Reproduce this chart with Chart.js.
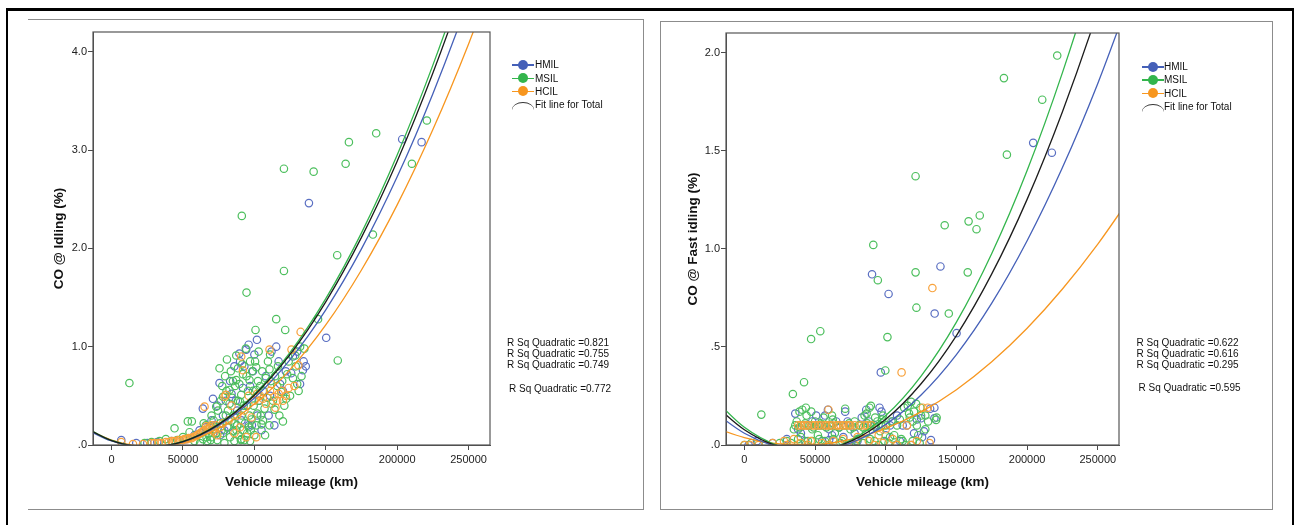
<!DOCTYPE html>
<html>
<head>
<meta charset="utf-8">
<title>CO emission vs vehicle mileage</title>
<script src="https://cdn.jsdelivr.net/npm/chart.js@4.4.1/dist/chart.umd.min.js"></script>
<style>
  body { margin: 0; background: #fff; font-family: Arial, "Liberation Sans", sans-serif; }
  #page { position: relative; width: 1301px; height: 525px; overflow: hidden; background: #fff; }
  .frame { position: absolute; box-sizing: border-box; left: 6px; top: 8px; width: 1288px; height: 560px;
           border: 2px solid #000; border-top-width: 3px; }
  .panel { position: absolute; box-sizing: border-box; border: 1px solid #8c8c8c; }
  #panelL { left: 28px; top: 19px; width: 616px; height: 491px; border-left: none; }
  #panelR { left: 660px; top: 21px; width: 613px; height: 489px; }
  .wrap { position: absolute; }
  #wrapL { left: 28px; top: 20px; width: 615px; height: 489px; }
  #wrapR { left: 661px; top: 22px; width: 611px; height: 487px; }
  .txt { position: absolute; font-size: 10px; line-height: 13px; color: #111; white-space: nowrap; }
  .ico { position: absolute; width: 22px; height: 13px; }
  .ico .ln { position: absolute; left: 0; top: 6px; width: 22px; height: 1.5px; }
  .ico .dot { position: absolute; left: 6px; top: 1.5px; width: 10px; height: 10px; border-radius: 50%; }
  .arc { position: absolute; width: 22px; height: 8px; box-sizing: border-box;
         border-top: 1.6px solid #333; border-radius: 50% 50% 0 0 / 100% 100% 0 0; }
</style>
</head>
<body>
<div id="page">
  <div class="frame"></div>
  <div class="panel" id="panelL"></div>
  <div class="panel" id="panelR"></div>
  <div class="wrap" id="wrapL"><canvas id="idleChart"></canvas></div>
  <div class="wrap" id="wrapR"><canvas id="fastChart"></canvas></div>
</div>
<script>
// axis ticks
const mileageTicks = [0, 50000, 100000, 150000, 200000, 250000];
const idleTicks = [0, 1, 2, 3, 4];
const fastTicks = [0, 0.5, 1, 1.5, 2];

const groups = ['HMIL', 'MSIL', 'HCIL'];
const groupColors = ['#4560b8', '#33b54c', '#f7961f'];
const markColors = ['#5a6fc2', '#4cbf5d', '#f8a23c'];

// quadratic fit lines, sampled every 25000 km
const fitKm = [-25000, 0, 25000, 50000, 75000, 100000, 125000, 150000, 175000, 200000, 225000, 250000, 275000];
const idleFitTotal = [0.230, 0.045, -0.020, 0.035, 0.210, 0.506, 0.921, 1.456, 2.111, 2.886, 3.782, 4.797, 5.932];
const idleFitHmil  = [0.216, 0.041, -0.020, 0.032, 0.198, 0.477, 0.869, 1.375, 1.994, 2.727, 3.573, 4.533, 5.606];
const idleFitMsil  = [0.235, 0.046, -0.020, 0.036, 0.215, 0.517, 0.941, 1.488, 2.157, 2.949, 3.863, 4.900, 6.060];
const idleFitHcil  = [0.218, 0.050, -0.014, 0.025, 0.168, 0.416, 0.767, 1.221, 1.780, 2.442, 3.208, 4.079, 5.052];
const fastFitTotal = [0.231, 0.078, -0.009, -0.029, 0.018, 0.131, 0.312, 0.558, 0.872, 1.252, 1.699, 2.212, 2.793];
const fastFitHmil  = [0.188, 0.060, -0.012, -0.029, 0.010, 0.105, 0.255, 0.461, 0.723, 1.041, 1.414, 1.843, 2.328];
const fastFitMsil  = [0.262, 0.090, -0.006, -0.029, 0.024, 0.150, 0.351, 0.626, 0.976, 1.399, 1.898, 2.470, 3.118];
const fastFitHcil  = [0.099, 0.038, 0.006, 0.003, 0.029, 0.085, 0.169, 0.282, 0.424, 0.595, 0.795, 1.024, 1.282];

// measurements: [mileage km, CO %]
const hmilIdle = [
  [6800,0.05],[17300,0.02],[25000,0.02],[32000,0.03],[42000,0.04],[52000,0.06],[58000,0.1],[61600,0.15],
  [63900,0.37],[66000,0.18],[68000,0.12],[70000,0.25],[71000,0.47],[72000,0.2],[74000,0.4],[75600,0.63],
  [76000,0.1],[78000,0.3],[79000,0.15],[80000,0.45],[82000,0.18],[83000,0.65],[84000,0.52],[86000,0.8],
  [87000,0.45],[88000,0.35],[89500,0.93],[90000,0.85],[91000,0.25],[92000,0.58],[93000,0.8],[94300,0.97],
  [95000,0.4],[96000,1.02],[96000,0.2],[97000,0.6],[98300,0.2],[99000,0.75],[100000,0.92],[101800,1.07],
  [102000,0.3],[103000,0.45],[105000,0.15],[106000,0.55],[108000,0.7],[110000,0.3],[111000,0.5],
  [112000,0.95],[114000,0.2],[115300,1.0],[117000,0.85],[118000,0.62],[120000,0.55],[122000,0.75],
  [125800,0.73],[127000,0.9],[130000,0.95],[132000,0.62],[134000,0.76],[134500,0.85],[136000,0.8],
  [138200,2.46],[150300,1.09],[203500,3.11],[217100,3.08]
];
const msilIdle = [
  [12500,0.63],[23100,0.02],[28000,0.03],[33600,0.04],[38000,0.06],[44100,0.17],[46000,0.05],[50000,0.08],
  [53400,0.24],[54600,0.13],[56200,0.24],[58000,0.04],[60000,0.1],[62000,0.02],[62000,0.12],[64000,0.06],
  [64500,0.22],[66000,0.2],[66500,0.08],[67000,0.04],[68000,0.12],[69000,0.18],[69500,0.05],[70000,0.3],
  [70000,0.08],[71500,0.25],[72000,0.16],[73000,0.12],[73300,0.39],[74000,0.05],[74500,0.35],[75600,0.78],
  [76000,0.22],[76500,0.45],[77000,0.15],[77500,0.6],[78000,0.49],[78000,0.12],[79000,0.02],[79500,0.7],
  [80000,0.3],[80500,0.55],[80800,0.87],[81000,0.18],[81500,0.35],[82600,0.56],[82600,0.42],[83000,0.08],
  [83500,0.75],[84000,0.25],[84500,0.48],[85000,0.65],[85000,0.14],[85500,0.3],[86000,0.04],[86000,0.22],
  [86500,0.6],[87300,0.91],[87300,0.66],[87500,0.15],[88000,0.2],[88500,0.78],[88500,0.45],[89000,0.1],
  [89500,0.62],[90000,0.44],[90500,0.05],[90800,0.51],[91000,0.3],[91000,0.06],[91200,2.33],[91500,0.82],
  [92000,0.72],[92000,0.15],[92500,0.4],[93000,0.05],[93500,0.22],[94000,0.98],[94500,1.55],[94500,0.7],
  [95000,0.4],[95000,0.12],[95500,0.55],[96000,0.18],[96500,0.3],[96600,0.66],[97000,0.85],[97000,0.04],
  [97500,0.15],[98000,0.26],[98500,0.75],[99000,0.55],[99500,0.4],[100000,0.1],[100500,0.85],[100800,1.17],
  [101300,0.79],[101300,0.56],[101500,0.2],[102000,0.32],[102500,0.65],[103000,0.95],[103500,0.45],
  [104000,0.6],[104500,0.3],[105000,0.21],[105500,0.75],[106000,0.25],[106500,0.55],[107100,0.37],
  [107500,0.1],[108000,0.68],[109000,0.48],[109500,0.85],[110500,0.2],[110600,0.77],[111000,0.92],
  [111500,0.65],[112000,0.42],[113000,0.45],[114100,0.36],[114500,0.7],[115300,1.28],[116000,0.6],
  [116500,0.8],[117500,0.3],[118800,0.54],[119500,0.65],[120000,0.24],[120700,2.81],[120700,1.77],
  [121000,0.4],[121600,1.17],[122300,0.47],[123000,0.72],[124000,0.85],[125000,0.5],[127000,0.68],
  [128600,0.91],[129000,0.8],[130000,0.62],[131000,0.55],[132000,1.0],[133000,0.7],[135000,0.98],
  [141500,2.78],[144600,1.28],[158000,1.93],[158400,0.86],[163900,2.86],[166200,3.08],[183000,2.14],
  [185300,3.17],[210300,2.86],[220800,3.30]
];
const hcilIdle = [
  [6800,0.03],[15000,0.01],[22000,0.01],[28000,0.02],[30000,0.02],[33000,0.02],[35000,0.02],[38000,0.03],
  [40000,0.03],[42000,0.04],[44000,0.04],[45000,0.04],[47000,0.05],[48000,0.05],[50000,0.05],[51000,0.06],
  [53000,0.06],[54000,0.07],[56000,0.07],[57000,0.08],[59000,0.09],[60000,0.1],[61000,0.11],[62000,0.12],
  [63000,0.13],[64000,0.14],[65000,0.15],[65100,0.39],[66300,0.19],[67000,0.17],[68000,0.16],[69000,0.18],
  [70000,0.2],[71000,0.15],[72000,0.13],[73000,0.2],[74000,0.1],[76000,0.18],[78000,0.22],[79100,0.49],
  [80000,0.51],[82000,0.25],[84000,0.4],[86000,0.12],[88000,0.3],[90000,0.18],[90800,0.9],[92000,0.76],
  [93000,0.35],[94300,0.08],[96000,0.5],[98000,0.28],[100000,0.45],[101300,0.08],[102000,0.52],
  [104000,0.5],[106000,0.47],[108000,0.42],[110600,0.97],[111000,0.55],[112000,0.62],[114100,0.49],
  [114800,0.38],[116000,0.45],[117000,0.52],[119000,0.55],[120000,0.45],[122000,0.5],[124000,0.58],
  [126000,0.97],[128000,0.6],[130800,0.81],[132400,1.15]
];

const hmilFast = [
  [3000,0.0],[9000,0.02],[20000,0.01],[30000,0.03],[36000,0.16],[38000,0.08],[40000,0.06],[43000,0.02],
  [45000,0.1],[48000,0.12],[50800,0.15],[53000,0.1],[55000,0.02],[57000,0.15],[59100,0.18],[60000,0.025],
  [60000,0.08],[62000,0.05],[65000,0.12],[67000,0.09],[70000,0.04],[71300,0.17],[73000,0.12],[75000,0.1],
  [78000,0.06],[80000,0.02],[83000,0.14],[86200,0.18],[88000,0.12],[90300,0.87],[92000,0.1],[95600,0.19],
  [96500,0.37],[97000,0.17],[100000,0.05],[102000,0.77],[103000,0.1],[105000,0.12],[108000,0.15],
  [110000,0.02],[112000,0.1],[115000,0.1],[118000,0.0],[120000,0.06],[122000,0.13],[125000,0.136],
  [125700,0.04],[127000,0.07],[131400,0.185],[132000,0.025],[134400,0.136],[134400,0.19],[134600,0.67],
  [138700,0.91],[150100,0.57],[204300,1.54],[217500,1.49]
];
const msilFast = [
  [0,0.0],[5000,0.01],[12000,0.155],[15000,0.0],[25000,0.01],[30000,0.02],[33000,0.01],[34300,0.26],
  [35000,0.08],[36000,0.1],[37000,0.12],[38000,0.03],[39000,0.17],[39000,0.09],[40000,0.04],[41000,0.18],
  [42000,0.1],[42200,0.32],[43000,0.0],[43000,0.11],[43500,0.19],[44000,0.15],[45000,0.02],[46000,0.1],
  [47200,0.54],[47300,0.17],[48000,0.08],[48000,0.02],[49000,0.09],[50000,0.12],[51000,0.1],[52000,0.05],
  [53000,0.03],[53700,0.58],[54000,0.11],[55000,0.1],[56000,0.14],[57000,0.02],[58000,0.09],[58000,0.0],
  [60000,0.1],[61000,0.1],[62000,0.15],[62500,0.13],[63000,0.11],[63000,0.03],[64000,0.06],[66000,0.1],
  [67000,0.09],[68000,0.01],[69000,0.02],[70000,0.1],[71300,0.185],[72000,0.1],[74000,0.11],[74000,0.0],
  [75000,0.08],[77000,0.09],[78000,0.12],[79000,0.02],[80000,0.03],[81000,0.1],[82000,0.1],[84000,0.09],
  [84000,0.01],[85000,0.15],[86000,0.06],[86500,0.16],[87000,0.11],[88500,0.19],[89000,0.1],[89000,0.03],
  [89500,0.2],[90000,0.1],[91200,1.02],[92000,0.02],[92500,0.14],[93000,0.09],[94000,0.12],[94400,0.84],
  [95000,0.0],[96000,0.07],[97000,0.1],[97500,0.13],[98000,0.15],[99000,0.02],[99700,0.38],[100000,0.1],
  [101200,0.55],[102000,0.01],[103000,0.04],[104000,0.12],[106000,0.05],[107000,0.0],[108000,0.1],
  [110000,0.13],[111000,0.03],[112000,0.02],[113000,0.19],[114000,0.0],[115600,0.2],[116500,0.16],
  [117000,0.14],[118000,0.22],[119000,0.12],[119000,0.02],[120000,0.17],[121100,1.37],[121100,0.88],
  [121500,0.21],[121700,0.70],[122000,0.1],[123000,0.05],[124000,0.01],[124500,0.19],[125000,0.15],
  [128000,0.08],[128000,0.15],[130000,0.12],[135600,0.128],[136000,0.14],[141700,1.12],[144600,0.67],
  [158000,0.88],[158600,1.14],[164200,1.10],[166500,1.17],[183600,1.87],[185700,1.48],[210700,1.76],
  [221300,1.985]
];
const hcilFast = [
  [0,0.0],[4000,0.0],[10000,0.0],[20000,0.01],[28000,0.02],[30000,0.0],[35000,0.03],[38000,0.1],
  [40000,0.01],[40000,0.1],[42000,0.1],[44000,0.1],[45000,0.1],[45000,0.0],[47000,0.02],[48000,0.1],
  [50000,0.1],[52000,0.1],[54000,0.1],[55000,0.01],[57000,0.1],[58000,0.1],[59500,0.18],[60000,0.1],
  [60000,0.0],[62000,0.1],[63000,0.02],[65000,0.1],[66000,0.1],[68000,0.1],[70000,0.03],[70000,0.1],
  [72000,0.1],[74000,0.1],[75000,0.1],[78000,0.1],[78000,0.0],[80000,0.04],[82000,0.1],[85000,0.1],
  [87000,0.1],[88000,0.02],[90000,0.1],[92000,0.0],[95000,0.05],[98000,0.01],[100000,0.08],[105000,0.03],
  [108000,0.0],[111200,0.37],[115000,0.1],[118000,0.0],[122000,0.02],[126200,0.19],[129700,0.19],
  [131000,0.01],[133000,0.8]
];

const idleRsq = ['0.821', '0.755', '0.749'];
const idleRsqTotal = '0.772';
const fastRsq = ['0.622', '0.616', '0.295'];
const fastRsqTotal = '0.595';

const fontFamily = 'Arial, "Liberation Sans", sans-serif';
const axisColor = '#4a4a4a';

// box around the plotting area
const plotFrame = {
  id: 'plotFrame',
  afterDraw(chart) {
    const { ctx, chartArea: a } = chart;
    ctx.save();
    ctx.strokeStyle = '#555';
    ctx.lineWidth = 1.2;
    ctx.strokeRect(a.left, a.top, a.right - a.left, a.bottom - a.top);
    ctx.restore();
  }
};

const fmtY = v => {
  const s = Number(v).toFixed(1);
  return s.startsWith('0') ? s.slice(1) : s;
};

function buildChart(id, o) {
  const datasets = [];
  // fit lines go first so they are drawn above the markers
  const fitColors = ['#1c1c1c', groupColors[1], groupColors[0], groupColors[2]];
  o.fits.forEach((ys, i) => datasets.push({
    type: 'line',
    data: fitKm.map((x, k) => ({ x, y: ys[k] })),
    borderColor: fitColors[i],
    borderWidth: 1.3,
    pointRadius: 0,
    fill: false,
    cubicInterpolationMode: 'monotone'
  }));
  // HCIL on top, then MSIL, then HMIL
  [2, 1, 0].forEach(g => datasets.push({
    type: 'scatter',
    label: groups[g],
    data: o.points[g].map(p => ({ x: p[0], y: p[1] })),
    borderColor: markColors[g],
    backgroundColor: 'rgba(255,255,255,0)',
    pointRadius: 3.7,
    pointBorderWidth: 1.2
  }));

  return new Chart(document.getElementById(id), {
    type: 'scatter',
    data: { datasets },
    options: {
      responsive: true,
      maintainAspectRatio: false,
      animation: false,
      events: [],
      layout: { padding: { top: o.padTop, right: 153, bottom: 0, left: 0 } },
      plugins: { legend: { display: false }, tooltip: { enabled: false } },
      scales: {
        x: {
          type: 'linear',
          min: -13000,
          max: 265000,
          afterBuildTicks: s => { s.ticks = mileageTicks.map(v => ({ value: v })); },
          afterFit: s => { s.height = 64; },
          ticks: { autoSkip: false, maxRotation: 0, padding: 3, color: '#222',
                   font: { family: fontFamily, size: 11 }, callback: v => String(v) },
          grid: { drawOnChartArea: false, tickLength: 5, color: axisColor },
          border: { color: axisColor, width: 1 },
          title: { display: true, text: 'Vehicle mileage (km)', color: '#111',
                   font: { family: fontFamily, size: 13.5, weight: 'bold' },
                   padding: { top: 0, bottom: 19 } }
        },
        y: {
          type: 'linear',
          min: 0,
          max: o.yMax,
          afterBuildTicks: s => { s.ticks = o.yTicks.map(v => ({ value: v })); },
          afterFit: s => { s.width = o.yWidth; },
          ticks: { padding: 1, color: '#222', font: { family: fontFamily, size: 11 }, callback: fmtY },
          grid: { drawOnChartArea: false, tickLength: 5, color: axisColor },
          border: { color: axisColor, width: 1 },
          title: { display: true, text: o.yTitle, color: '#111',
                   font: { family: fontFamily, size: 13.5, weight: 'bold' },
                   padding: { top: o.yTitlePad, bottom: 0 } }
        }
      }
    },
    plugins: [plotFrame]
  });
}

buildChart('idleChart', {
  fits: [idleFitTotal, idleFitMsil, idleFitHmil, idleFitHcil],
  points: [hmilIdle, msilIdle, hcilIdle],
  yTicks: idleTicks, yMax: 4.2, yTitle: 'CO @ Idling (%)',
  padTop: 12, yWidth: 65, yTitlePad: 23
});
buildChart('fastChart', {
  fits: [fastFitTotal, fastFitMsil, fastFitHmil, fastFitHcil],
  points: [hmilFast, msilFast, hcilFast],
  yTicks: fastTicks, yMax: 2.1, yTitle: 'CO @ Fast idling (%)',
  padTop: 11, yWidth: 65, yTitlePad: 24
});

// legend and R-square notes beside each plot
const page = document.getElementById('page');
function addText(text, x, cy) {
  const d = document.createElement('div');
  d.className = 'txt';
  d.textContent = text;
  d.style.left = x + 'px';
  d.style.top = (cy - 6.5) + 'px';
  page.appendChild(d);
}
function addLegend(cx, textX, rows) {
  groups.forEach((g, i) => {
    const ico = document.createElement('div');
    ico.className = 'ico';
    ico.style.left = (cx - 11) + 'px';
    ico.style.top = (rows[i] - 6.5) + 'px';
    ico.innerHTML = `<i class="ln" style="background:${groupColors[i]}"></i><i class="dot" style="background:${groupColors[i]}"></i>`;
    page.appendChild(ico);
    addText(g, textX, rows[i]);
  });
  const arc = document.createElement('div');
  arc.className = 'arc';
  arc.style.left = (cx - 11) + 'px';
  arc.style.top = (rows[3] - 2) + 'px';
  page.appendChild(arc);
  addText('Fit line for Total', textX, rows[3]);
}
function addRsq(x, rows, values, total) {
  values.forEach((v, i) => addText('R Sq Quadratic =' + v, x, rows[i]));
  addText('R Sq Quadratic =' + total, x + 2, rows[3]);
}

addLegend(523, 535, [64.5, 78, 91, 104.3]);
addLegend(1153, 1164, [66.7, 79.7, 93, 106]);
addRsq(507, [342, 353, 364, 388], idleRsq, idleRsqTotal);
addRsq(1136.5, [342.3, 353.3, 364.3, 387.7], fastRsq, fastRsqTotal);
</script>
</body>
</html>
